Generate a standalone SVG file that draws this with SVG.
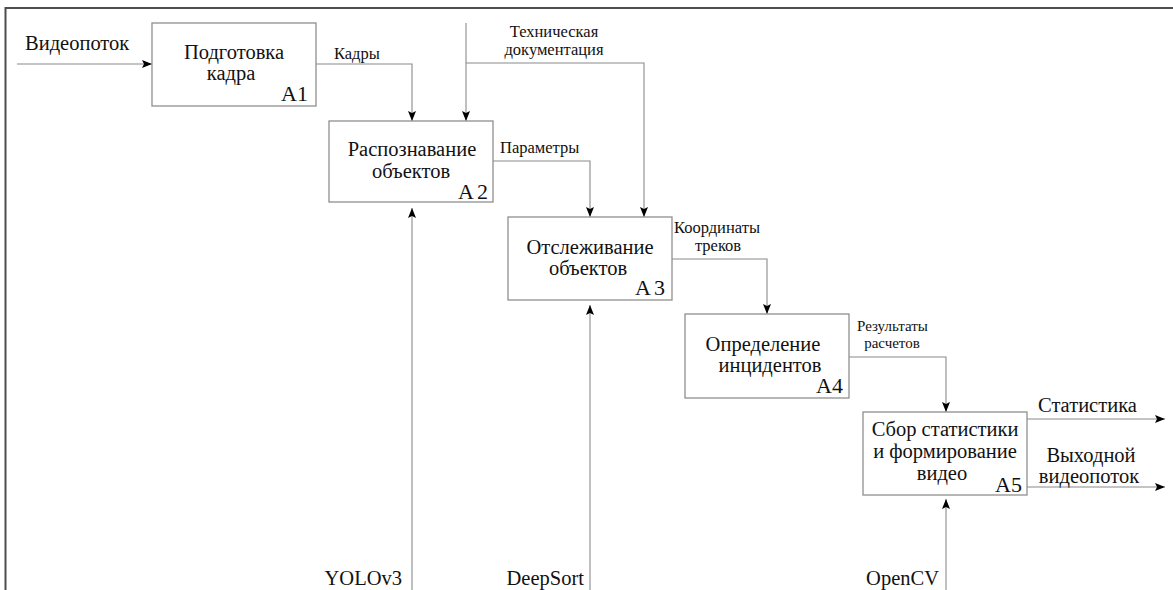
<svg xmlns="http://www.w3.org/2000/svg" width="1173" height="590" viewBox="0 0 1173 590">
<style>
.box{fill:#fff;stroke:#8f8f8f;stroke-width:1.3}
.t{font-family:"Liberation Serif","Times New Roman",serif;font-size:20.5px;fill:#111}
.s{font-family:"Liberation Serif","Times New Roman",serif;font-size:16.5px;fill:#111}
.xs{font-family:"Liberation Serif","Times New Roman",serif;font-size:15px;fill:#111}
.n{font-family:"Liberation Serif","Times New Roman",serif;font-size:22px;fill:#111}
.c{text-anchor:middle}
.e{text-anchor:end}
.ar{fill:none;stroke:#8a8a8a;stroke-width:1.1;marker-end:url(#ah)}
</style>
<defs>
<marker id="ah" markerUnits="userSpaceOnUse" markerWidth="11" markerHeight="9" refX="10" refY="4" orient="auto">
<path d="M0,0 L10,4 L0,8 L2,4 z" fill="#000"/>
</marker>
</defs>
<rect width="1173" height="590" fill="#fff"/>
<g id="frame">
<path d="M1173,8 H5.5 V590" fill="none" stroke="#4d4d4d" stroke-width="2"/>
</g>
<g id="connectors">
<path class="ar" d="M17,64 H152"/>
<path class="ar" d="M316,64 H412 V121"/>
<path class="ar" d="M466,23 V121"/>
<path class="ar" d="M466,63 H644 V217"/>
<path class="ar" d="M493,161 H590 V217"/>
<path class="ar" d="M672,259 H767 V314"/>
<path class="ar" d="M849,357 H946 V412"/>
<path class="ar" d="M1027,419 H1165"/>
<path class="ar" d="M1027,487 H1165"/>
<path class="ar" d="M412,590 V208"/>
<path class="ar" d="M590,590 V305"/>
<path class="ar" d="M946,590 V499"/>
<text class="t" x="25" y="50">Видеопоток</text>
<text class="s" x="334" y="59">Кадры</text>
<text class="s c" x="554" y="37">Техническая</text>
<text class="s c" x="554" y="55">документация</text>
<text class="s" x="500" y="153">Параметры</text>
<text class="s" x="674" y="233">Координаты</text>
<text class="s c" x="718" y="251">треков</text>
<text class="xs" x="857" y="331">Результаты</text>
<text class="xs c" x="892" y="348">расчетов</text>
<text class="t" x="1038" y="412">Статистика</text>
<text class="t c" x="1091" y="462">Выходной</text>
<text class="t c" x="1089" y="483">видеопоток</text>
<text class="t e" x="402" y="585">YOLOv3</text>
<text class="t e" x="584" y="585">DeepSort</text>
<text class="t e" x="939" y="585">OpenCV</text>
</g>
<g id="A1">
<rect class="box" x="152" y="23" width="164" height="83"/>
<text class="t c" x="234" y="59">Подготовка</text>
<text class="t c" x="231" y="80">кадра</text>
<text class="n e" x="308" y="101">A1</text>
</g>
<g id="A2">
<rect class="box" x="329" y="121" width="164" height="81"/>
<text class="t c" x="412" y="156">Распознавание</text>
<text class="t c" x="411" y="178">объектов</text>
<text class="n e" x="488" y="199">A<tspan dx="3">2</tspan></text>
</g>
<g id="A3">
<rect class="box" x="508" y="217" width="164" height="83"/>
<text class="t c" x="590" y="254">Отслеживание</text>
<text class="t c" x="588" y="275">объектов</text>
<text class="n e" x="665" y="295">A<tspan dx="3">3</tspan></text>
</g>
<g id="A4">
<rect class="box" x="685" y="314" width="164" height="84"/>
<text class="t c" x="763" y="351">Определение</text>
<text class="t c" x="770" y="372">инцидентов</text>
<text class="n e" x="843" y="393">A4</text>
</g>
<g id="A5">
<rect class="box" x="863" y="412" width="164" height="83"/>
<text class="t c" x="945" y="436">Сбор статистики</text>
<text class="t c" x="945" y="458">и формирование</text>
<text class="t c" x="942" y="480">видео</text>
<text class="n e" x="1022" y="492">A5</text>
</g>
</svg>
